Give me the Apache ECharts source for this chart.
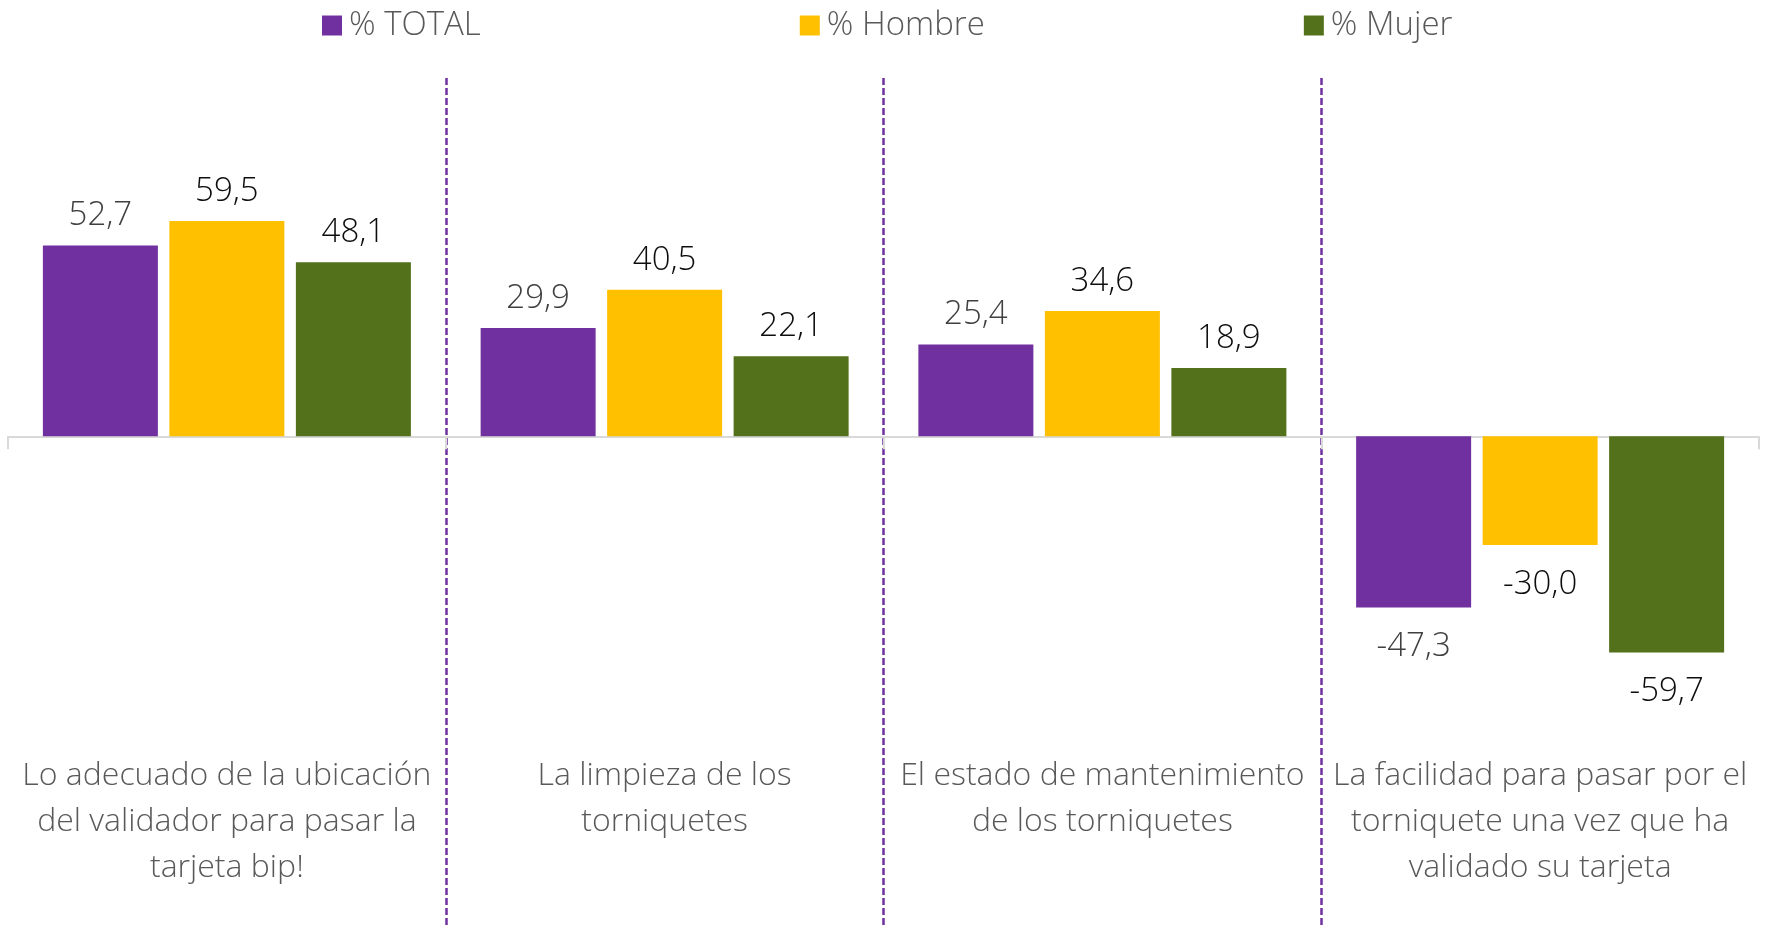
<!DOCTYPE html>
<html>
<head>
<meta charset="utf-8">
<script src="https://cdn.jsdelivr.net/npm/echarts@6/dist/echarts.min.js"></script>
<style>
  html, body { margin: 0; padding: 0; background: #fff; }
  #chart { width: 1771px; height: 925px; }
</style>
</head>
<body>
<div id="chart"></div>
<script>
// categorias (con saltos de linea como en el original)
var categorias = [
  'Lo adecuado de la ubicación\ndel validador para pasar la\ntarjeta bip!',
  'La limpieza de los\ntorniquetes',
  'El estado de mantenimiento\nde los torniquetes',
  'La facilidad para pasar por el\ntorniquete una vez que ha\nvalidado su tarjeta'
];
var total  = [52.7, 29.9, 25.4, -47.3];
var hombre = [59.5, 40.5, 34.6, -30.0];
var mujer  = [48.1, 22.1, 18.9, -59.7];

var FUENTE = '"Open Sans", "Noto Sans", sans-serif';

/* ETIQUETAS: los negativos van un poco mas separados de la barra */
function datosConEtiqueta(datos){
  return datos.map(function(v){
    return { value: v, label: { distance: v < 0 ? 23 : 13 } };
  });
}

function serie(nombre, datos, color, colorLabel){
  return {
    name: nombre,
    type: 'bar',
    data: datosConEtiqueta(datos),
    barWidth: 115,
    barGap: '10%',
    itemStyle: { color: color },
    label: {
      show: true,
      position: 'outside',
      fontFamily: FUENTE,
      fontSize: 33,
      fontWeight: 300,
      color: colorLabel,
      formatter: function(p){ return p.value.toFixed(1).replace('.', ','); }
    }
  };
}

var chart = echarts.init(document.getElementById('chart'));
chart.setOption({
  animation: false,
  legend: {
    top: 4,
    left: 317,
    itemWidth: 20,
    itemHeight: 20,
    itemGap: 319,
    icon: 'rect',
    textStyle: { fontFamily: FUENTE, fontSize: 33, fontWeight: 300, color: '#595959', padding: [0, 0, 0, 2] }
  },
  grid: { left: 8, right: 12, top: 78, bottom: 0, outerBoundsMode: 'none', containLabel: false },
  xAxis: {
    type: 'category',
    data: categorias,
    axisLine: { onZero: true, lineStyle: { color: '#d9d9d9', width: 2 } },
    axisTick: { show: true, length: 13, lineStyle: { color: '#d9d9d9', width: 2 } },
    axisLabel: {
      interval: 0,
      margin: -172,
      fontFamily: FUENTE,
      fontSize: 32,
      fontWeight: 300,
      lineHeight: 46,
      color: '#595959',
      align: 'center',
      verticalAlign: 'top'
    },
    splitLine: {
      show: true,
      interval: 0,
      showMinLine: false,
      showMaxLine: false,
      lineStyle: { color: '#7030A0', width: 2.5, type: [7, 3] }
    }
  },
  yAxis: {
    type: 'value',
    min: -135,
    max: 99,
    show: false,
    splitLine: { show: false }
  },
  series: [
    serie('% TOTAL', total, '#7030A0', '#404040'),
    serie('% Hombre', hombre, '#FFC000', '#0d0d0d'),
    serie('% Mujer', mujer, '#52711A', '#0d0d0d')
  ]
});
</script>
</body>
</html>
